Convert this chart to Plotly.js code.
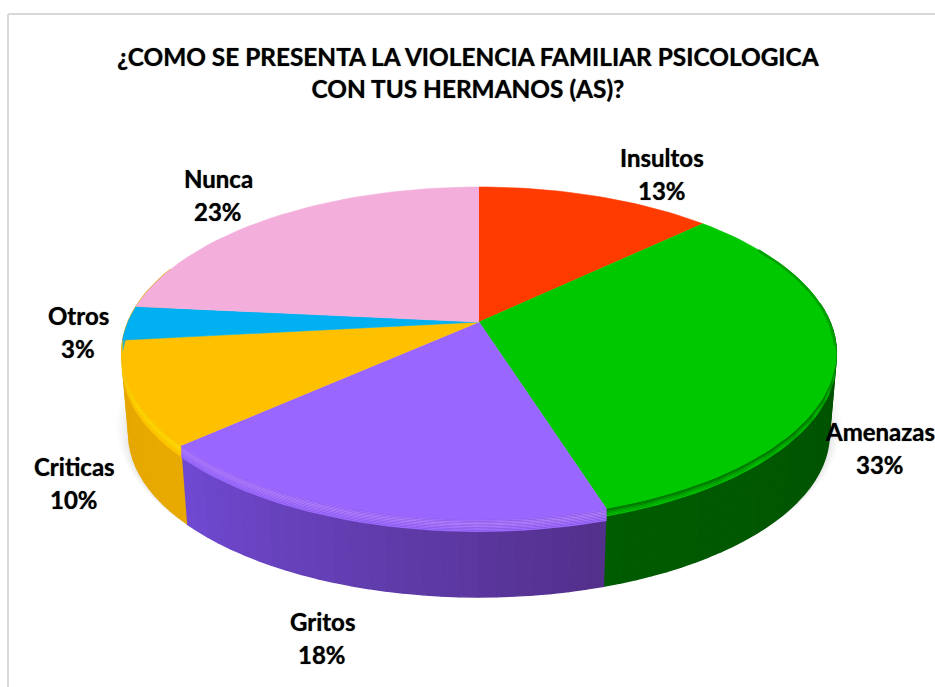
<!DOCTYPE html>
<html><head><meta charset="utf-8">
<script src="https://cdn.plot.ly/plotly-3.0.1.min.js"></script>
<style>html,body{margin:0;padding:0;background:#fff;overflow:hidden}</style>
</head><body><div id="chart" style="width:935px;height:687px"></div>
<script>
// ---- data ----
var categories = ['Insultos','Amenazas','Gritos','Criticas','Otros','Nunca'];
var counts     = [8,20,11,6,2,14];
// ---- styles ----
var topColors  = ['#FF3B00','#00C800','#9966FF','#FFC000','#00B0F0','#F4AEDC'];
var wallFrom   = ['#B02800','#004F00','#52308A','#E8A900','#0080B0','#B080A0'];
var wallTo     = ['#B02800','#005C00','#7049D2','#E3A600','#0080B0','#B080A0'];
var bevelColor = ['#FF3B00','#006E00','#AE7CFF','#FFDD00','#00B0F0','#F4AEDC'];
var labelX     = [183,401,-157,-405,-401,-261];
var labelY     = [165,-109,-299,-144,7,144];
var titleText  = '¿COMO SE PRESENTA LA VIOLENCIA FAMILIAR PSICOLOGICA<br>CON TUS HERMANOS (AS)?';
// ---- geometry of the tilted disc ----
var A=351, B=160.5, K=0.189, DEPTH=81, SHRINK=0.98, WARP=2.6;
function pt(theta,scale,dy){
  var t=theta-WARP*Math.sin(theta*Math.PI/360);
  var r=t*Math.PI/180, u=Math.sin(r), v=Math.cos(r), w=1+K*v;
  return [scale*A*u/w, scale*B*v/w-(dy||0)];
}
function hex(c){return [1,3,5].map(function(i){return parseInt(c.substr(i,2),16);});}
function mix(a,b,t){var x=hex(a),y=hex(b);return 'rgb('+x.map(function(p,i){return Math.round(p+(y[i]-p)*t);}).join(',')+')';}
function poly(points,color,opacity,lw){
  return {type:'scatter',mode:'lines',x:points.map(function(p){return p[0];}),y:points.map(function(p){return p[1];}),
    fill:'toself',fillcolor:color,line:{color:color,width:lw===undefined?0.6:lw},opacity:opacity===undefined?1:opacity,
    hoverinfo:'skip',showlegend:false};
}
function arc(t0,t1,scale,dy){var n=Math.max(2,Math.ceil(Math.abs(t1-t0)/2)),o=[];
  for(var i=0;i<=n;i++)o.push(pt(t0+(t1-t0)*i/n,scale,dy));return o;}

var total=counts.reduce(function(a,b){return a+b;},0);
var starts=[],acc=0;
counts.forEach(function(c){starts.push(acc/total*360);acc+=c;});
starts.push(360);

var traces=[];
// soft shadow under the disc
[[1.035,-10,0.025],[1.028,-8,0.03],[1.02,-5,0.04],[1.012,-3,0.05],[1.005,-1,0.06]].forEach(function(s){
  traces.push(poly(arc(0,360,SHRINK*s[0],DEPTH+s[1]),'#808080',s[2],0));
});
// side walls (one narrow strip per step so the shading can change along the edge)
categories.forEach(function(_,i){
  var isLast = categories[i]==='Criticas';
  var a=Math.max(starts[i],85), b=isLast?292:Math.min(starts[i+1],starts[4]);
  if(b<=a || i>3)return;
  var n=Math.ceil((b-a)/2.5);
  for(var k=0;k<n;k++){
    var t0=a+(b-a)*k/n,t1=a+(b-a)*(k+1)/n;
    var q=[pt(t0,1,0),pt(t1,1,0),pt(t1,SHRINK,DEPTH),pt(t0,SHRINK,DEPTH)];
    traces.push(poly(q,mix(wallFrom[i],wallTo[i],(k+0.5)/n),1,1.4));
  }
});
// top faces
categories.forEach(function(_,i){
  traces.push(poly([[0,0]].concat(arc(starts[i],starts[i+1],1,0)),topColors[i]));
});
// bevel along the front edge, fading into the face
var bands=[[0,1.5,0.35],[1.5,3,0.7],[3,4.5,1],[4.5,6,0.85],[6,7.5,0.65],[7.5,9,0.45],[9,10.5,0.28],[10.5,12,0.12]];
var darkBands=[[0,1.5,0.9],[1.5,3,0.6],[3,4.5,0.35],[4.5,6,0.18],[6,7.5,0.07]];
categories.forEach(function(name,i){
  var a=Math.max(starts[i],92), b=Math.min(starts[i+1],272);
  if(b<=a)return;
  (name==='Amenazas'?darkBands:bands).forEach(function(h){
    var top=arc(a,b,1,h[1]), low=arc(b,a,1,h[0]);
    traces.push(poly(top.concat(low),mix(topColors[i],bevelColor[i],h[2]),1,0));
  });
});
// dark rim on the right shoulder
var rim=arc(62,100,0.997);
traces.push({type:'scatter',mode:'lines',x:rim.map(function(p){return p[0];}),y:rim.map(function(p){return p[1];}),
  line:{color:'#00A000',width:2.5},hoverinfo:'skip',showlegend:false});

// labels
var textShadow='0 0 1px rgba(0,0,0,0.7)';
var annotations=[];
categories.forEach(function(name,i){
  var font={family:'Lato, Carlito, sans-serif',size:24,color:'#000',shadow:textShadow};
  annotations.push({x:labelX[i],y:labelY[i],xref:'x',yref:'y',text:'<b>'+name+'</b>',showarrow:false,font:font,xanchor:'center',yanchor:'middle'});
  annotations.push({x:labelX[i],y:labelY[i]-33,xref:'x',yref:'y',text:'<b>'+Math.round(counts[i]/total*100)+'%</b>',showarrow:false,font:font,xanchor:'center',yanchor:'middle'});
});

var layout={
  width:935,height:687,margin:{l:0,r:0,t:0,b:0},paper_bgcolor:'#fff',plot_bgcolor:'#fff',
  showlegend:false,hovermode:false,
  title:{text:'<b>'+titleText.replace('<br>','</b><br><b>')+'</b>',font:{family:'Lato, Carlito, sans-serif',size:24.4,color:'#000',shadow:textShadow},x:0.5005,xanchor:'center',y:0.9035,yanchor:'bottom',yref:'paper'},
  xaxis:{visible:false,range:[-479,456],fixedrange:true},
  yaxis:{visible:false,range:[-365,322],fixedrange:true},
  annotations:annotations,
  shapes:[
    {type:'line',xref:'x',yref:'y',x0:-471,x1:470,y0:308,y1:308,line:{color:'#D9D9D9',width:2}},
    {type:'line',xref:'x',yref:'y',x0:-471,x1:-471,y0:308,y1:-380,line:{color:'#D9D9D9',width:2}}
  ]
};
Plotly.newPlot('chart',traces,layout,{displayModeBar:false,staticPlot:true});
</script></body></html>
